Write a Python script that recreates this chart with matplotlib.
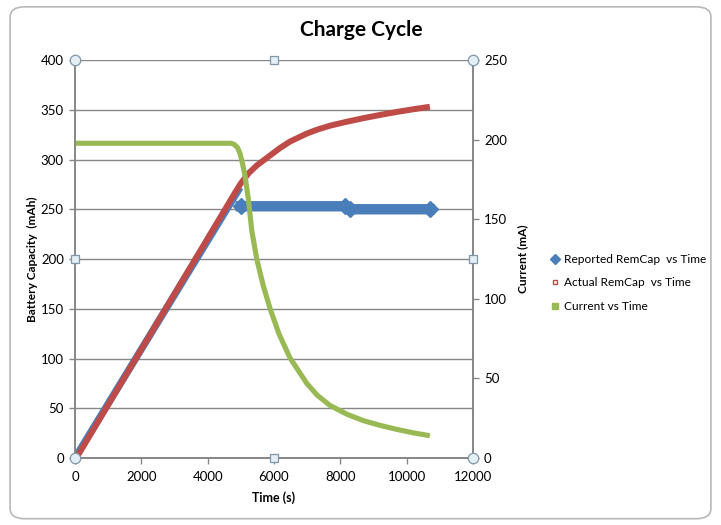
import matplotlib.pyplot as plt
from matplotlib.lines import Line2D
from matplotlib.patches import FancyBboxPatch

# ---- data ----
reported_time = [0, 4980, 5000, 8150, 8300, 10700]
reported_cap = [0, 272, 253, 253, 250, 250]
KNEE = 2  # index where the reported capacity flattens

actual_time = [40, 4850, 5000, 5230, 5480, 5880, 6180, 6480, 6985, 7300,
               7690, 8200, 8690, 9200, 9700, 10200, 10700]
actual_cap = [0, 268, 276, 286, 294, 304, 311.5, 318, 326, 330,
              334, 338, 341.5, 344.8, 347.8, 350.5, 353]

current_time = [0, 4700, 4800, 4900, 4980, 5050, 5130, 5230, 5330, 5480,
                5680, 5880, 6150, 6480, 6985, 7300, 7690, 8200, 8690, 9200,
                9700, 10200, 10700]
current_ma = [197.7, 197.7, 197, 195, 191, 185, 177, 162, 143, 125,
              108, 94, 78, 63, 47, 39.5, 33, 27.5, 23.5, 20.5,
              18, 15.8, 14]

left_ticks = [0, 50, 100, 150, 200, 250, 300, 350, 400]
right_ticks = [0, 50, 100, 150, 200, 250]
x_ticks = [0, 2000, 4000, 6000, 8000, 10000, 12000]

BLUE = "#4a7ebb"
RED = "#be4b48"
GREEN = "#98b954"
GRAY = "#868686"

plt.rcParams.update({
    "font.family": ["Lato", "DejaVu Sans"],
    "font.size": 9.5,
})

fig = plt.figure(figsize=(7.21, 5.25), dpi=100)
fig.patch.set_facecolor("white")

# chart-area border (rounded, like the Excel chart frame)
frame = FancyBboxPatch((0.014, 0.012), 0.972, 0.975,
                       boxstyle="round,pad=0,rounding_size=0.02",
                       transform=fig.transFigure, facecolor="none",
                       edgecolor="#b8b8b8", linewidth=1.2, zorder=-1)
fig.patches.append(frame)

ax = fig.add_axes([0.1040, 0.1276, 0.5520, 0.7581])
ax2 = ax.twinx()

# reported capacity: rising part then the flat, marker-dense plateau
ax.plot(reported_time[:KNEE], reported_cap[:KNEE], color=BLUE,
        linewidth=5.2, solid_capstyle="butt", zorder=2)
ax.plot(reported_time[KNEE:], reported_cap[KNEE:], color=BLUE,
        linewidth=7.5, marker="D", markersize=8, zorder=2)
ax.plot(actual_time, actual_cap, color=RED, linewidth=4.3,
        solid_capstyle="butt", solid_joinstyle="round", zorder=3)
ax2.plot(current_time, current_ma, color=GREEN, linewidth=3.7,
         solid_capstyle="butt", solid_joinstyle="round")

ax.set_xlim(0, 12000)
ax.set_ylim(0, 400)
ax2.set_ylim(0, 250)
ax.set_xticks(x_ticks)
ax.set_yticks(left_ticks)
ax2.set_yticks(right_ticks)

ax.yaxis.grid(True, color=GRAY, linewidth=1.0)
ax.set_axisbelow(True)

for a in (ax, ax2):
    a.spines["top"].set_visible(False)
    for s in ("left", "right", "bottom"):
        a.spines[s].set_color(GRAY)
        a.spines[s].set_linewidth(1.2)
    a.tick_params(colors=GRAY, labelcolor="black", length=4, width=1.0,
                  labelsize=9.5)
ax.tick_params(axis="y", pad=4)
ax2.tick_params(axis="y", pad=4)
ax.tick_params(axis="x", pad=5)

ax.set_xlabel("Time (s)", fontsize=9, fontweight="bold", labelpad=6)
ax.set_ylabel("Battery Capacity  (mAh)", fontsize=8.6, fontweight="bold",
              labelpad=2)
ax2.set_ylabel("Current (mA)", fontsize=8.6, fontweight="bold", labelpad=7)

fig.text(0.5007, 0.943, "Charge Cycle", ha="center", va="center",
         fontsize=15, fontweight="bold")

# selection handles drawn by Excel around the plot area
handle_pos = [(0, 0, "o"), (1, 0, "o"), (0, 1, "o"), (1, 1, "o"),
              (0.5, 0, "s"), (0.5, 1, "s"), (0, 0.5, "s"), (1, 0.5, "s")]
for hx, hy, mk in handle_pos:
    ax2.plot(hx, hy, marker=mk, markersize=7.5 if mk == "o" else 5.5,
             markerfacecolor="#e4eef5", markeredgecolor="#7f97aa",
             markeredgewidth=0.9, transform=ax2.transAxes, clip_on=False,
             zorder=10)

handles = [
    Line2D([], [], linestyle="none", marker="D", markersize=5.5,
           color=BLUE),
    Line2D([], [], linestyle="none", marker="s", markersize=3.5,
           markerfacecolor="white", markeredgecolor=RED,
           markeredgewidth=1.0),
    Line2D([], [], linestyle="none", marker="s", markersize=4,
           color=GREEN),
]
fig.legend(handles,
           ["Reported RemCap  vs Time", "Actual RemCap  vs Time",
            "Current vs Time"],
           loc="center left", bbox_to_anchor=(0.75, 0.461),
           frameon=False, fontsize=8.6, handlelength=0.6, handletextpad=0.45,
           labelspacing=1.05)

fig.savefig("out.png", dpi=100)
